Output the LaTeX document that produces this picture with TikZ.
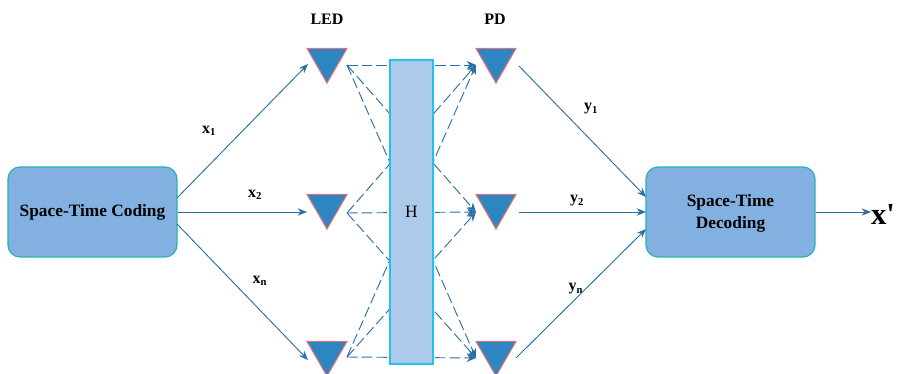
\documentclass[tikz,border=0pt]{standalone}
\usepackage{fontspec}
\setmainfont{Liberation Serif}
\newfontfamily\plainserif{Liberation Serif}
\usetikzlibrary{arrows.meta,shapes.geometric}
\definecolor{boxfill}{HTML}{82B1E1}
\definecolor{boxline}{HTML}{25B3B0}
\definecolor{trifill}{HTML}{2E86C1}
\definecolor{triline}{HTML}{E8707A}
\definecolor{hfill}{HTML}{ADCAEA}
\definecolor{hline}{HTML}{1FC3F0}
\definecolor{wire}{HTML}{2A6FA5}
\tikzset{
  x=0.75pt,y=-0.75pt,
  block/.style={draw=boxline,fill=boxfill,line width=0.9pt,rounded corners=9pt,minimum width=126.75pt,minimum height=67.5pt,inner sep=0pt,align=center,font=\fontsize{13}{16.5}\selectfont\bfseries},
  led/.style={regular polygon,regular polygon sides=3,shape border rotate=180,draw=triline,fill=trifill,line width=0.8pt,minimum size=34.6pt,inner sep=0pt,outer sep=0pt},
  channel/.style={draw=hline,fill=hfill,line width=0.8pt,minimum width=32.25pt,minimum height=228pt,inner sep=0pt,font=\fontsize{13}{15}\selectfont},
  wirearrow/.style={draw=wire,line width=0.7pt,-{Stealth[length=7pt,width=5.5pt]}},
  linkarrow/.style={draw=wire,line width=0.7pt,dash pattern=on 8pt off 3pt,-{Stealth[length=7pt,width=6pt]}},
  lab/.style={inner sep=0pt,font=\fontsize{12}{14}\selectfont\bfseries},
}
\begin{document}
\begin{tikzpicture}
\useasboundingbox (0,0) rectangle (897,374);
% coordinates for link ends
\coordinate (l1) at (347,65);
\coordinate (l2) at (347,213);
\coordinate (l3) at (347,357);
\coordinate (p1) at (476,65);
\coordinate (p2) at (476,212);
\coordinate (p3) at (476,358);
% links pass behind the channel block
\foreach \a in {1,2,3}{\foreach \b in {1,2,3}{\draw[linkarrow] (l\a) -- (p\b);}}
\node[channel] (H) at (411.5,212) {H};
% triangles
\node[led] (L1) at (327,60) {};
\node[led] (L2) at (327,206) {};
\node[led] (L3) at (327,353) {};
\node[led] (P1) at (496,60) {};
\node[led] (P2) at (496,206) {};
\node[led] (P3) at (496,353) {};
% blocks
\node[block] (coding) at (92.5,212) {Space-Time Coding};
\node[block] (decoding) at (730.5,212) {};
\node[inner sep=0pt,align=center,font=\fontsize{13}{16.5}\selectfont\bfseries] (decodinglabel) at (730.5,213.5) {Space-Time\\Decoding};
% labels
\node[lab] (ledlab) at (327,19) {LED};
\node[lab] (pdlab) at (495,19) {PD};
\node[lab] (x1) at (209,131) {x\textsubscript{1}};
\node[lab] (x2) at (255,195) {x\textsubscript{2}};
\node[lab] (xn) at (260,281) {x\textsubscript{n}};
\node[lab] (y1) at (591,109) {y\textsubscript{1}};
\node[lab] (y2) at (577,201) {y\textsubscript{2}};
\node[lab] (yn) at (576,289) {y\textsubscript{n}};
\node[inner sep=0pt,font=\fontsize{23}{26}\selectfont\plainserif\bfseries] (xout) at (883,214) {x'};
% connector ends
\coordinate (c1) at (177,198);
\coordinate (c3) at (177,224);
\coordinate (t1) at (308,64);
\coordinate (t2) at (307,212);
\coordinate (t3) at (308,360);
\coordinate (r1) at (519,66);
\coordinate (r2) at (519,212);
\coordinate (r3) at (516,358);
\coordinate (d1) at (646,197);
\coordinate (d2) at (646,212);
\coordinate (d3) at (646,229);
\coordinate (o) at (871,212);
\draw[wirearrow] (c1) -- (t1);
\draw[wirearrow] (coding.east) -- (t2);
\draw[wirearrow] (c3) -- (t3);
\draw[wirearrow] (r1) -- (d1);
\draw[wirearrow] (r2) -- (d2);
\draw[wirearrow] (r3) -- (d3);
\draw[wirearrow] (decoding.east) -- (o);
\end{tikzpicture}
\end{document}
